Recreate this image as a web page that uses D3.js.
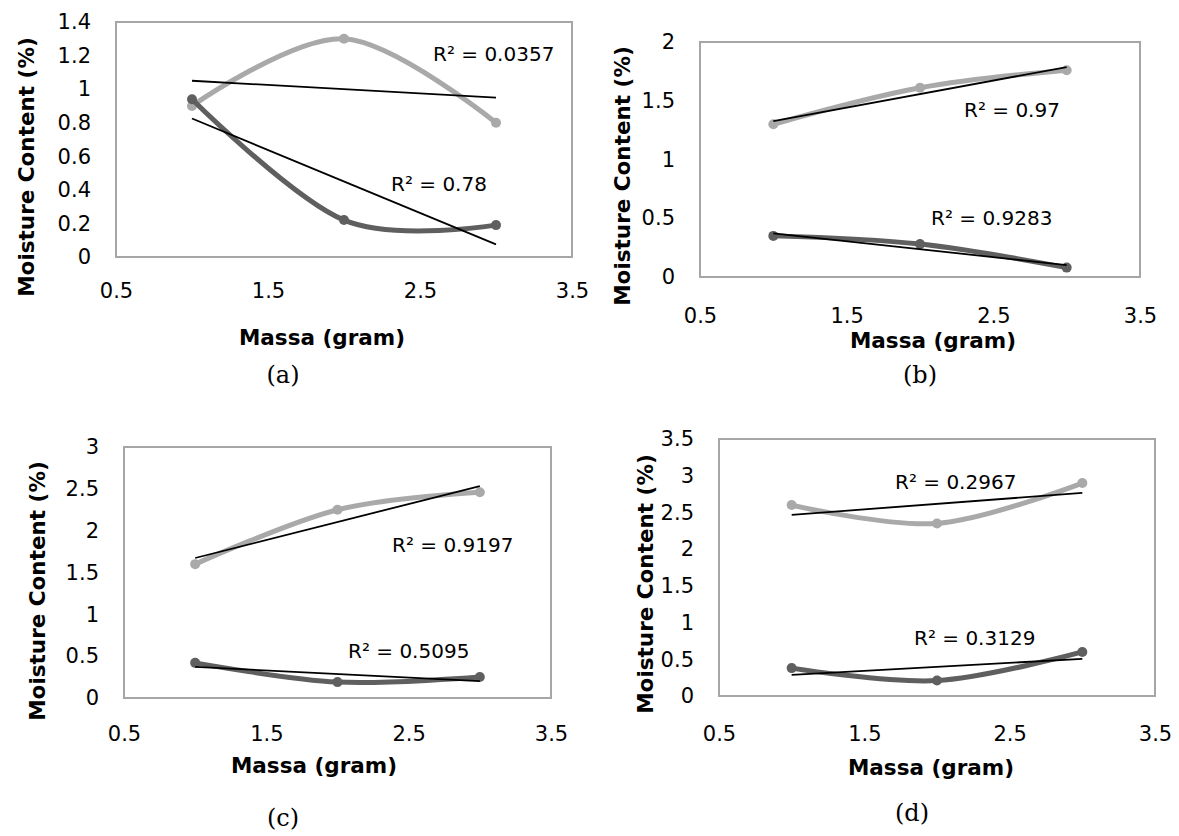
<!DOCTYPE html>
<html>
<head>
<meta charset="utf-8">
<script src="https://cdn.jsdelivr.net/npm/d3@7"></script>
<style>
  body { margin: 0; background: #fff; }
  svg { display: block; }
</style>
</head>
<body>
<div id="chart"></div>
<script>
// x values (Massa, gram) shared by every panel
const massa = [1, 2, 3];

// moisture content (%) per panel: light series and dark series
const lightA = [0.9, 1.3, 0.8];
const darkA  = [0.94, 0.22, 0.19];
const lightB = [1.3, 1.61, 1.76];
const darkB  = [0.35, 0.28, 0.08];
const lightC = [1.6, 2.25, 2.46];
const darkC  = [0.42, 0.19, 0.25];
const lightD = [2.6, 2.35, 2.9];
const darkD  = [0.38, 0.21, 0.6];

// R² labels of the trend lines (light, dark)
const r2A = ['R² = 0.0357', 'R² = 0.78'];
const r2B = ['R² = 0.97', 'R² = 0.9283'];
const r2C = ['R² = 0.9197', 'R² = 0.5095'];
const r2D = ['R² = 0.2967', 'R² = 0.3129'];

const xTicks = [0.5, 1.5, 2.5, 3.5];
const yTicksA = [0, 0.2, 0.4, 0.6, 0.8, 1, 1.2, 1.4];
const yTicksB = [0, 0.5, 1, 1.5, 2];
const yTicksC = [0, 0.5, 1, 1.5, 2, 2.5, 3];
const yTicksD = [0, 0.5, 1, 1.5, 2, 2.5, 3, 3.5];

const captions = ['(a)', '(b)', '(c)', '(d)'];

const colors = {
    light: '#a9a9a9',
    dark: '#5f5f5f',
    trend: '#000',
    frame: '#a6a6a6',
    text: '#000'
};

// frame box and label spots, all in page pixels
const panels = [
    { light: lightA, dark: darkA, r2: r2A, yTicks: yTicksA, yMax: 1.4,
      box: { l: 116, t: 22, r: 572, b: 257 },
      xLabelY: 290, xTitle: [322, 337], caption: [283, 375], yTitle: [26, 167],
      r2Pos: [[433, 61], [391, 191]] },
    { light: lightB, dark: darkB, r2: r2B, yTicks: yTicksB, yMax: 2,
      box: { l: 700, t: 42, r: 1140, b: 277 },
      xLabelY: 315, xTitle: [933, 340], caption: [920, 375], yTitle: [622, 176],
      r2Pos: [[964, 117], [931, 225]] },
    { light: lightC, dark: darkC, r2: r2C, yTicks: yTicksC, yMax: 3,
      box: { l: 124, t: 447, r: 551, b: 698 },
      xLabelY: 733, xTitle: [314, 765], caption: [283, 818], yTitle: [37, 591],
      r2Pos: [[392, 552], [348, 658]] },
    { light: lightD, dark: darkD, r2: r2D, yTicks: yTicksD, yMax: 3.5,
      box: { l: 719, t: 439, r: 1155, b: 696 },
      xLabelY: 733, xTitle: [931, 767], caption: [912, 813], yTitle: [645, 584],
      r2Pos: [[895, 489], [914, 645]] }
];

const width = 1179, height = 836;
const sans = '"DejaVu Sans", sans-serif';

const svg = d3.select('#chart')
    .append('svg')
    .attr('width', width)
    .attr('height', height);

// least squares line, only two end points needed
function trend(xs, ys) {
    const mx = d3.mean(xs), my = d3.mean(ys);
    const slope = d3.sum(xs, (x, i) => (x - mx) * (ys[i] - my)) /
        d3.sum(xs, x => (x - mx) * (x - mx));
    const icpt = my - slope * mx;
    const x0 = d3.min(xs), x1 = d3.max(xs);
    return [[x0, icpt + slope * x0], [x1, icpt + slope * x1]];
}

panels.forEach((p, idx) => {
    const b = p.box;
    const x = d3.scaleLinear().domain([0.5, 3.5]).range([b.l, b.r]);
    const y = d3.scaleLinear().domain([0, p.yMax]).range([b.b, b.t]);

    const g = svg.append('g');

    // plot frame
    g.append('rect')
        .attr('x', b.l)
        .attr('y', b.t)
        .attr('width', b.r - b.l)
        .attr('height', b.b - b.t)
        .attr('fill', 'none')
        .attr('stroke', colors.frame)
        .attr('stroke-width', 2);

    // y axis labels
    const yAxis = g.append('g')
        .attr('transform', `translate(${b.l - 25},0)`)
        .call(d3.axisLeft(y).tickValues(p.yTicks).tickSize(0).tickPadding(0)
            .tickFormat(d3.format('')));
    yAxis.select('.domain').remove();
    yAxis.selectAll('text')
        .style('font-family', sans)
        .style('font-size', '21px')
        .attr('fill', colors.text);

    // x axis labels
    const xAxis = g.append('g')
        .attr('transform', `translate(0,${p.xLabelY})`)
        .call(d3.axisBottom(x).tickValues(xTicks).tickSize(0).tickPadding(0)
            .tickFormat(d3.format('.1f')));
    xAxis.select('.domain').remove();
    xAxis.selectAll('text')
        .attr('dy', '0.36em')
        .style('font-family', sans)
        .style('font-size', '21px')
        .attr('fill', colors.text);

    // axis titles
    g.append('text')
        .attr('x', p.xTitle[0])
        .attr('y', p.xTitle[1])
        .attr('text-anchor', 'middle')
        .attr('dominant-baseline', 'central')
        .style('font-family', sans)
        .style('font-size', '21.5px')
        .style('font-weight', 'bold')
        .text('Massa (gram)');

    g.append('text')
        .attr('transform', `translate(${p.yTitle[0]},${p.yTitle[1]}) rotate(-90)`)
        .attr('text-anchor', 'middle')
        .attr('dominant-baseline', 'central')
        .style('font-family', sans)
        .style('font-size', '21.5px')
        .style('font-weight', 'bold')
        .text('Moisture Content (%)');

    // caption
    g.append('text')
        .attr('x', p.caption[0])
        .attr('y', p.caption[1])
        .attr('text-anchor', 'middle')
        .attr('dominant-baseline', 'central')
        .style('font-family', '"DejaVu Serif", serif')
        .style('font-size', '24px')
        .text(captions[idx]);

    const line = d3.line()
        .x(d => x(d[0]))
        .y(d => y(d[1]))
        .curve(d3.curveCatmullRom.alpha(0));

    [['light', p.light], ['dark', p.dark]].forEach(([key, vals]) => {
        const pts = massa.map((m, i) => [m, vals[i]]);
        g.append('path')
            .datum(pts)
            .attr('d', line)
            .attr('fill', 'none')
            .attr('stroke', colors[key])
            .attr('stroke-width', 5)
            .attr('stroke-linecap', 'round');
        g.selectAll(null)
            .data(pts)
            .join('circle')
            .attr('cx', d => x(d[0]))
            .attr('cy', d => y(d[1]))
            .attr('r', 5)
            .attr('fill', colors[key]);
    });

    // linear trend lines
    [p.light, p.dark].forEach(vals => {
        g.append('path')
            .datum(trend(massa, vals))
            .attr('d', d3.line().x(d => x(d[0])).y(d => y(d[1])))
            .attr('fill', 'none')
            .attr('stroke', colors.trend)
            .attr('stroke-width', 1.8);
    });

    // R² labels
    p.r2.forEach((lbl, i) => {
        g.append('text')
            .attr('x', p.r2Pos[i][0])
            .attr('y', p.r2Pos[i][1])
            .style('font-family', sans)
            .style('font-size', '20px')
            .attr('fill', colors.text)
            .text(lbl);
    });
});
</script>
</body>
</html>
